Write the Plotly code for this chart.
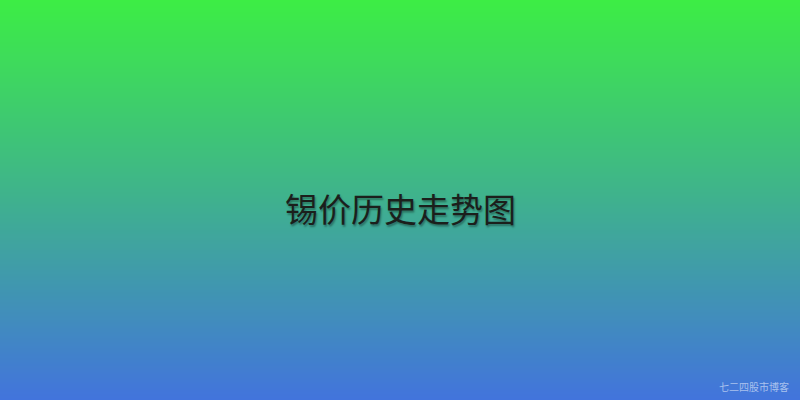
import plotly.graph_objects as go

# Hintergrund-Verlauf (oben gruen -> unten blau)
grad_colors = ["#3ded45", "#3fb18e", "#4274dc"]
title_text = "锡价历史走势图"
watermark_text = "七二四股市博客"

n_rows = 200
rows = list(range(n_rows))

fig = go.Figure(go.Heatmap(
    z=[[r] for r in rows],
    x=[0],
    y=rows,
    colorscale=[[0.0, grad_colors[2]], [0.5, grad_colors[1]], [1.0, grad_colors[0]]],
    showscale=False,
    hoverinfo="skip",
))

fig.add_annotation(
    text=title_text, x=0.5, y=0.48, xref="paper", yref="paper",
    showarrow=False, xanchor="center", yanchor="middle",
    font=dict(family="Noto Sans CJK SC", size=33, color="#1b1f1c",
              shadow="1px 2px 2px rgba(0,0,0,0.35)"),
)
fig.add_annotation(
    text=watermark_text, x=0.989, y=0.033, xref="paper", yref="paper",
    showarrow=False, xanchor="right", yanchor="middle",
    font=dict(family="Noto Sans CJK SC", size=10, color="rgba(205,220,245,0.75)"),
)

fig.update_layout(
    width=800, height=400,
    margin=dict(l=0, r=0, t=0, b=0),
    xaxis=dict(visible=False, range=[-0.5, 0.5], fixedrange=True),
    yaxis=dict(visible=False, range=[-0.5, n_rows - 0.5], fixedrange=True),
    paper_bgcolor="#3fb18e",
    plot_bgcolor="#3fb18e",
)

# Body-Rand entfernen, sonst Scrollbalken / weisser Rand
fig.write_html(
    "out.html",
    config={"displayModeBar": False},
    post_script="document.body.style.margin='0';document.body.style.overflow='hidden';",
)
